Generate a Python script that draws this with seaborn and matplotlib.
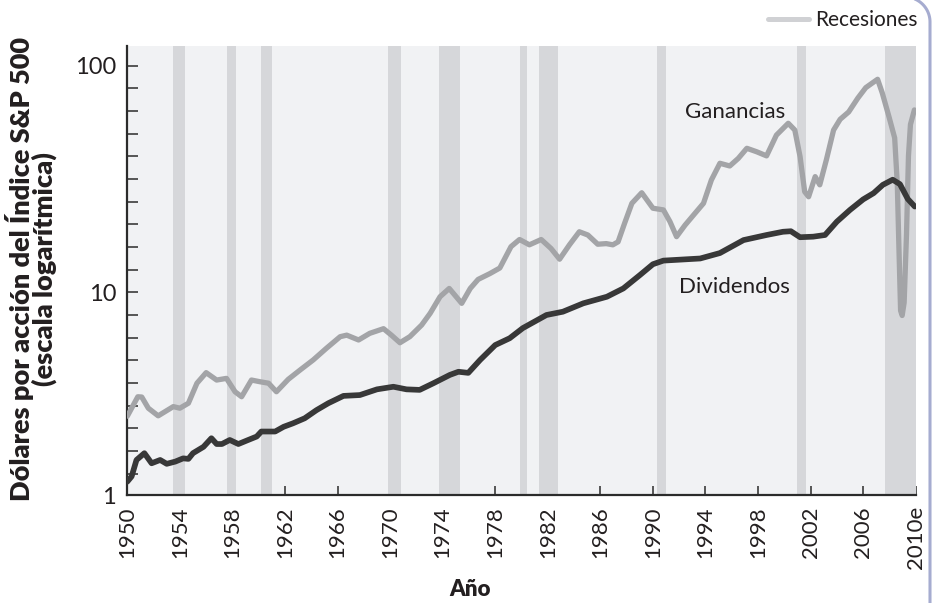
import numpy as np
import pandas as pd
import matplotlib
matplotlib.use("Agg")
import matplotlib.pyplot as plt
import seaborn as sns
from matplotlib.lines import Line2D
from matplotlib.ticker import FixedLocator, NullFormatter

# --- data -----------------------------------------------------------------
earn_years = [1950.0, 1950.8, 1951.1, 1951.6, 1952.35, 1953.5, 1954.0, 1954.65,
              1955.3, 1956.0, 1956.8, 1957.55, 1958.2, 1958.7, 1959.45, 1960.1,
              1960.75, 1961.35, 1962.25, 1963.15, 1964.15, 1965.15, 1966.2, 1966.7,
              1967.6, 1968.45, 1969.5, 1970.1, 1970.75, 1971.5, 1972.4, 1973.05,
              1973.8, 1974.5, 1975.45, 1976.1, 1976.7, 1977.6, 1978.35, 1979.2,
              1979.85, 1980.6, 1981.5, 1982.25, 1982.9, 1983.65, 1984.4, 1985.05,
              1985.8, 1986.45, 1986.95, 1987.35, 1987.85, 1988.4, 1989.15, 1990.0,
              1990.8, 1991.3, 1991.8, 1992.45, 1993.2, 1993.85, 1994.45, 1995.1,
              1995.85, 1996.5, 1997.15, 1997.9, 1998.65, 1999.4, 2000.3, 2000.8,
              2001.2, 2001.55, 2001.85, 2002.35, 2002.7, 2003.2, 2003.75, 2004.25,
              2004.9, 2005.6, 2006.2, 2006.65, 2007.1, 2007.45, 2007.95, 2008.4,
              2008.6, 2008.72, 2008.85, 2008.97, 2009.12, 2009.3, 2009.45, 2009.6,
              2009.9]
earn_vals = [2.84, 3.46, 3.45, 3.08, 2.85, 3.13, 3.08, 3.24,
             3.97, 4.42, 4.10, 4.17, 3.64, 3.46, 4.10, 4.03,
             3.97, 3.64, 4.13, 4.54, 5.03, 5.66, 6.37, 6.47,
             6.16, 6.59, 6.91, 6.47, 5.99, 6.37, 7.17, 8.08,
             9.56, 10.4, 8.94, 10.4, 11.4, 12.1, 12.8, 15.9,
             17.1, 16.2, 17.1, 15.6, 14.0, 16.2, 18.5, 17.9,
             16.3, 16.4, 16.2, 16.7, 20.2, 24.7, 27.5, 23.5,
             23.1, 20.5, 17.6, 19.8, 22.3, 24.7, 31.3, 37.1,
             36.1, 39.0, 43.2, 41.7, 40.0, 49.4, 55.7, 52.0,
             39.7, 27.8, 26.4, 32.4, 29.8, 38.4, 52.0, 58.0,
             62.5, 72.0, 80.0, 83.5, 87.1, 76.0, 60.0, 48.0,
             30.0, 16.0, 8.3, 7.9, 9.0, 18.0, 40.0, 55.0,
             63.8]

div_years = [1950.0, 1950.33, 1950.7, 1951.3, 1951.85, 1952.5, 1953.0, 1953.65,
             1954.25, 1954.65, 1955.0, 1955.8, 1956.4, 1956.8, 1957.2, 1957.8,
             1958.45, 1959.2, 1959.85, 1960.2, 1961.25, 1961.9, 1962.6, 1963.5,
             1964.4, 1965.3, 1966.45, 1967.7, 1969.0, 1970.25, 1971.25, 1972.25,
             1973.3, 1974.55, 1975.2, 1975.95, 1976.85, 1978.0, 1979.1, 1980.1,
             1981.9, 1983.15, 1984.7, 1986.5, 1987.75, 1989.0, 1990.0, 1990.8,
             1993.6, 1995.1, 1996.9, 1998.65, 1999.9, 2000.5, 2001.2, 2002.2,
             2003.1, 2004.0, 2005.0, 2006.0, 2006.8, 2007.5, 2008.25, 2008.8,
             2009.4, 2009.93]
div_vals = [1.46, 1.54, 1.82, 1.95, 1.76, 1.82, 1.75, 1.79,
            1.85, 1.84, 1.95, 2.08, 2.27, 2.14, 2.14, 2.23,
            2.14, 2.23, 2.31, 2.43, 2.43, 2.55, 2.64, 2.78,
            3.02, 3.24, 3.49, 3.52, 3.73, 3.83, 3.73, 3.71,
            3.97, 4.32, 4.46, 4.41, 5.03, 5.85, 6.27, 6.95,
            7.94, 8.21, 8.94, 9.56, 10.4, 11.9, 13.3, 13.8,
            14.1, 14.9, 17.0, 17.9, 18.5, 18.6, 17.5, 17.6,
            17.9, 20.5, 23.1, 25.7, 27.4, 29.8, 31.4, 30.0,
            25.8, 23.9]

recession_start = [1953.5, 1957.55, 1960.2, 1969.85, 1973.7, 1979.85, 1981.35,
                   1990.3, 2000.95, 2007.65]
recession_end = [1954.4, 1958.3, 1961.05, 1970.8, 1975.3, 1980.4, 1982.75,
                 1991.0, 2001.65, 2010.0]

xtick_years = [1950, 1954, 1958, 1962, 1966, 1970, 1974, 1978, 1982, 1986,
               1990, 1994, 1998, 2002, 2006, 2010]
xtick_labels = ["1950", "1954", "1958", "1962", "1966", "1970", "1974", "1978",
                "1982", "1986", "1990", "1994", "1998", "2002", "2006", "2010e"]
ytick_labels = ["1", "10", "100"]

# --- style ----------------------------------------------------------------
sns.set_theme(style="ticks")
plt.rcParams["font.family"] = ["Lato", "DejaVu Sans"]

C_EARN = "#a3a4a7"
C_DIV = "#383838"
C_REC = "#d6d7da"
C_BG = "#f1f2f4"
C_TXT = "#231f20"
C_AXIS = "#2b2b2b"

W, H = 932, 603
fig = plt.figure(figsize=(W / 100, H / 100), dpi=100)
fig.patch.set_facecolor("white")
x0, x1, y0, y1 = 127.3, 915.7, 46, 495
ax = fig.add_axes([x0 / W, 1 - y1 / H, (x1 - x0) / W, (y1 - y0) / H])
ax.set_facecolor(C_BG)

for s, e in zip(recession_start, recession_end):
    ax.axvspan(s, e, color=C_REC, lw=0, zorder=1)

earn = pd.DataFrame({"year": earn_years, "value": earn_vals})
div = pd.DataFrame({"year": div_years, "value": div_vals})
sns.lineplot(data=earn, x="year", y="value", ax=ax, color=C_EARN, lw=3.8,
             sort=False, errorbar=None, zorder=3,
             solid_capstyle="round", solid_joinstyle="round")
sns.lineplot(data=div, x="year", y="value", ax=ax, color=C_DIV, lw=4.1,
             sort=False, errorbar=None, zorder=4,
             solid_capstyle="round", solid_joinstyle="round")

ax.set_yscale("log")
ax.set_xlim(1950, 2010)
y_bottom = 10 ** (1 - (y1 - 292.3) / 226.6)
y_top = 10 ** (2 + (65.7 - y0) / 226.6)
ax.set_ylim(y_bottom, y_top)

ax.yaxis.set_major_locator(FixedLocator([y_bottom, 10, 100]))
ax.set_yticklabels(ytick_labels)
minor = [10 ** (k / 10) for k in range(2, 20) if k != 10]
ax.yaxis.set_minor_locator(FixedLocator(minor))
ax.yaxis.set_minor_formatter(NullFormatter())

ax.set_xticks(xtick_years)
ax.set_xticklabels(xtick_labels, rotation=90)
ax.xaxis.set_minor_locator(FixedLocator([]))

ax.tick_params(axis="y", which="both", direction="in", length=8, width=1.1,
               color=C_AXIS, labelsize=17, labelcolor=C_TXT, pad=8)
ax.tick_params(axis="x", which="both", direction="in", length=6.5, width=1.1,
               color=C_AXIS, labelsize=16, labelcolor=C_TXT, pad=8)

for side in ("top", "right"):
    ax.spines[side].set_visible(False)
for side in ("left", "bottom"):
    ax.spines[side].set_color(C_AXIS)
    ax.spines[side].set_linewidth(1.6)

ax.set_xlabel("")
ax.set_ylabel("")
ax.grid(False)

# series labels
ax.text(1996.25, 62.5, "Ganancias", ha="center", va="center",
        fontsize=16, color=C_TXT, zorder=5)
ax.text(1996.2, 10.55, "Dividendos", ha="center", va="center",
        fontsize=16, color=C_TXT, zorder=5)

# axis titles
fig.text(31 / W, 1 - 269 / H,
         "Dólares por acción del Índice S&P 500\n(escala logarítmica)",
         rotation=90, ha="center", va="center", multialignment="center",
         fontsize=19.5, fontweight="heavy", color=C_TXT, linespacing=0.92)
fig.text(470 / W, 1 - 590 / H, "Año", ha="center", va="center",
         fontsize=16, fontweight="heavy", color=C_TXT)

# legend for recession shading
leg = ax.legend(handles=[Line2D([], [], color="#d0d1d4", lw=3.6)],
                labels=["Recesiones"], frameon=False, fontsize=15,
                loc="center right", bbox_to_anchor=(918 / W, 1 - 20 / H),
                bbox_transform=fig.transFigure, borderaxespad=0, borderpad=0,
                handlelength=2.0, handletextpad=0.3)
for t in leg.get_texts():
    t.set_color(C_TXT)

# page frame: right edge with rounded top corner
t = np.linspace(0, np.pi / 2, 40)
cx, cy, r = 905, 22, 25
fx = list(cx + r * np.sin(t)) + [cx + r]
fy = list(cy - r * np.cos(t)) + [H + 5]
fig.add_artist(Line2D([v / W for v in fx], [1 - v / H for v in fy],
                      transform=fig.transFigure, color="#a6acd0", lw=2.2))

fig.savefig("out.png", dpi=100, facecolor="white")
